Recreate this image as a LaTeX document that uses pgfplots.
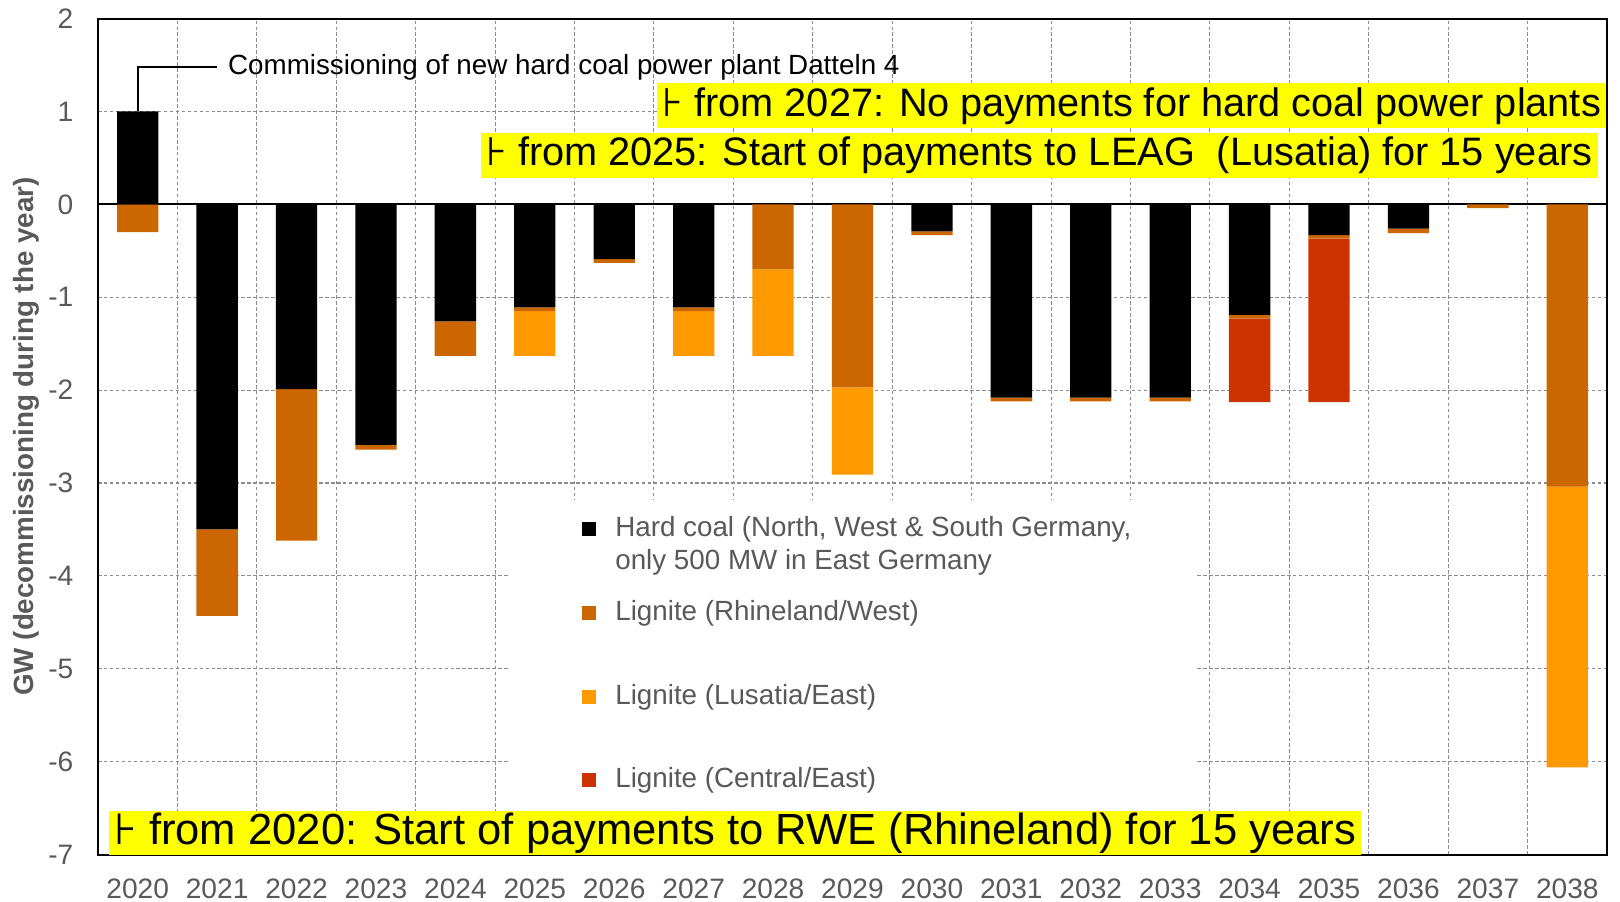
\documentclass[border=0pt]{standalone}
\usepackage{amsmath}
\usepackage{fontspec}
\setmainfont{Liberation Sans}
\newfontfamily\symfont{DejaVu Sans}
\usepackage{pgfplots}
\pgfplotsset{compat=1.18}
\definecolor{cRhine}{HTML}{CC6600}
\definecolor{cLus}{HTML}{FF9900}
\definecolor{cCen}{HTML}{CC3300}
\definecolor{cGrid}{HTML}{8C8C8C}
\definecolor{cText}{HTML}{595959}
\definecolor{cYel}{HTML}{FFFF00}
\pgfplotsset{
  sq legend/.style={legend image code/.code={
    \fill[##1] (0cm,-0.07cm) rectangle (0.14cm,0.07cm);
    \path (0.26cm,0cm);}},
}
\tikzset{hilite/.style={fill=cYel, text=black, inner xsep=1.5pt, inner ysep=0pt}}
\begin{document}
\begin{tikzpicture}
\begin{axis}[
  scale only axis,
  width=15.09cm, height=8.36cm,
  xmin=-0.5, xmax=18.5, ymin=-7, ymax=2,
  clip=false,
  ybar stacked, stack negative=separate,
  bar width=0.52,
  xtick={0,...,18},
  xticklabels={2020,2021,2022,2023,2024,2025,2026,2027,2028,2029,2030,2031,2032,2033,2034,2035,2036,2037,2038},
  minor xtick={0.5,1.5,...,17.5},
  ytick={-7,...,2},
  yticklabels={-7,-6,-5,-4,-3,-2,-1,0,1,2},
  ymajorgrids, xminorgrids,
  major grid style={cGrid, dash pattern=on 1pt off 0.7pt, line width=0.3pt},
  minor grid style={cGrid, dash pattern=on 1pt off 0.7pt, line width=0.3pt},
  major tick length=0pt, minor tick length=0pt,
  axis line style={line width=0.6pt},
  tick label style={font=\fontsize{8}{9.6}\selectfont, text=cText, inner sep=0pt},
  xticklabel style={anchor=north, yshift=-0.235cm},
  yticklabel style={anchor=east, xshift=-0.24cm},
  ylabel={GW (decommissioning during the year)},
  every axis y label/.style={at={(rel axis cs:0,0.5)}, xshift=-0.72cm, rotate=90, anchor=center,
    font=\fontsize{7.9}{9.5}\selectfont\bfseries, text=cText},
  legend style={at={(0.3135,0.4136)}, anchor=north west, draw=none, fill=none,
    font=\fontsize{7.9}{9.4}\selectfont, text=cText, row sep=0.583cm,
    nodes={inner ysep=0pt}},
  legend cell align=left,
]
\addplot[fill=black, draw=none, sq legend] coordinates {
  (0,1) (1,-3.5) (2,-1.99) (3,-2.59) (4,-1.26) (5,-1.11) (6,-0.59) (7,-1.11) (8,0) (9,0)
  (10,-0.29) (11,-2.08) (12,-2.08) (13,-2.08) (14,-1.19) (15,-0.33) (16,-0.26) (17,0) (18,0)};
\addlegendentry{\smash[b]{\parbox[t]{6cm}{Hard coal (North, West \& South Germany,\\only 500 MW in East Germany}}}
\addplot[fill=cRhine, draw=none, sq legend] coordinates {
  (0,-0.3) (1,-0.93) (2,-1.63) (3,-0.05) (4,-0.37) (5,-0.04) (6,-0.04) (7,-0.04) (8,-0.7) (9,-1.97)
  (10,-0.04) (11,-0.04) (12,-0.04) (13,-0.04) (14,-0.04) (15,-0.04) (16,-0.05) (17,-0.04) (18,-3.04)};
\addlegendentry{Lignite (Rhineland/West)}
\addplot[fill=cLus, draw=none, sq legend] coordinates {
  (0,0) (1,0) (2,0) (3,0) (4,0) (5,-0.48) (6,0) (7,-0.48) (8,-0.93) (9,-0.94)
  (10,0) (11,0) (12,0) (13,0) (14,0) (15,0) (16,0) (17,0) (18,-3.02)};
\addlegendentry{Lignite (Lusatia/East)}
\addplot[fill=cCen, draw=none, sq legend] coordinates {
  (0,0) (1,0) (2,0) (3,0) (4,0) (5,0) (6,0) (7,0) (8,0) (9,0)
  (10,0) (11,0) (12,0) (13,0) (14,-0.9) (15,-1.76) (16,0) (17,0) (18,0)};
\addlegendentry{Lignite (Central/East)}
% white panel behind the legend hides the grid there
\fill[white] (axis cs:4.69,-3.18) rectangle (axis cs:13.34,-7);
\draw[line width=0.5pt] (axis cs:-0.5,0) -- (axis cs:18.5,0);
\draw[line width=0.5pt] (axis cs:0,1) -- (axis cs:0,1.48) -- (axis cs:1.0,1.48);
\coordinate (note) at (axis cs:1.13,1.48);
\coordinate (h1) at (axis cs:18.5,1.06);
\coordinate (h2) at (axis cs:18.39,0.53);
\coordinate (h3) at (axis cs:-0.37,-6.77);
\coordinate (bl) at (rel axis cs:0,0);
\coordinate (tr) at (rel axis cs:1,1);
\end{axis}
\node[anchor=west, font=\fontsize{7.9}{9.4}\selectfont, inner sep=0pt] at (note)
  {Commissioning of new hard coal power plant Datteln 4};
\node[hilite, anchor=east, text height=0.33cm, text depth=0.12cm, font=\fontsize{11.3}{13}\selectfont]
  at (h1) {{\symfont ⊦} from 2027: No payments for hard coal power plants};
\node[hilite, anchor=east, text height=0.33cm, text depth=0.12cm, font=\fontsize{11.3}{13}\selectfont]
  at (h2) {{\symfont ⊦} from 2025: Start of payments to LEAG\ \ (Lusatia) for 15 years};
\node[hilite, anchor=west, text height=0.33cm, text depth=0.11cm, font=\fontsize{12.4}{14}\selectfont]
  at (h3) {{\symfont ⊦} from 2020: Start of payments to RWE (Rhineland) for 15 years};
\pgfresetboundingbox
\path[use as bounding box] ([xshift=-0.98cm,yshift=-0.47cm]bl) rectangle ([xshift=0.13cm,yshift=0.186cm]tr);
\end{tikzpicture}
\end{document}
